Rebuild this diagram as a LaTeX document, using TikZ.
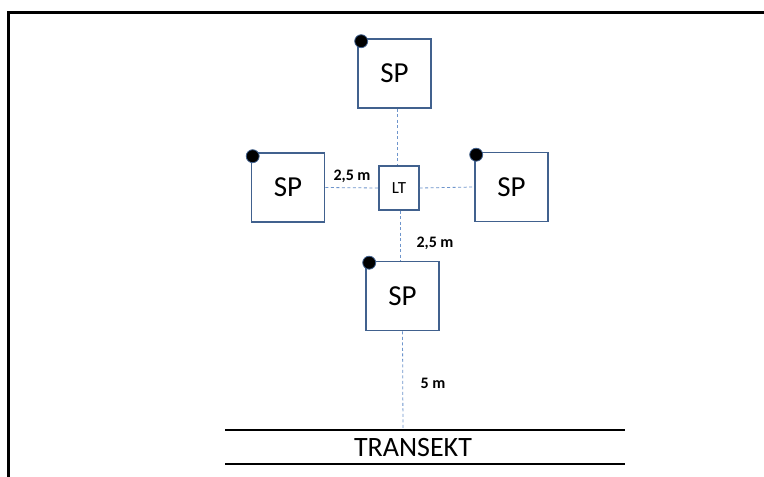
\documentclass[tikz,border=0pt]{standalone}
\usepackage{fontspec}
\setmainfont{Carlito}
\begin{document}
\begin{tikzpicture}[x=1pt,y=-1pt,
  plot/.style={draw=boxblue,line width=1.6pt,fill=white,minimum width=73pt,minimum height=69pt,inner sep=0pt,font=\fontsize{29}{30}\selectfont},
  tree/.style={draw=boxblue,line width=1.4pt,fill=white,minimum width=40pt,minimum height=44pt,inner sep=0pt,font=\fontsize{17}{18}\selectfont},
  corner/.style={circle,fill=black,draw=boxblue,line width=0.8pt,minimum size=13pt,inner sep=0pt},
  link/.style={draw=lineblue,line width=0.8pt,dash pattern=on 3pt off 2.5pt},
  dist/.style={font=\bfseries\fontsize{16}{17}\selectfont,inner sep=0pt},
  frame/.style={line width=3pt,black},
  rail/.style={line width=2.4pt,black}]
\definecolor{boxblue}{HTML}{41618E}
\definecolor{lineblue}{HTML}{6E95CC}
\useasboundingbox (0,0) rectangle (764,477);
\fill[white] (0,0) rectangle (764,477);
% outer frame
\coordinate (fb) at (8,477);
\coordinate (fc) at (8,12);
\coordinate (fr) at (764,12);
\draw[frame] (fb) -- (fc) -- (fr);
% transect rails
\coordinate (t1a) at (225,430);
\coordinate (t1b) at (625,430);
\coordinate (t2a) at (225,464);
\coordinate (t2b) at (625,464);
\draw[rail] (t1a) -- (t1b);
\draw[rail] (t2a) -- (t2b);
\node[font=\fontsize{28}{29}\selectfont,inner sep=0pt] (tr) at (413,448) {TRANSEKT};
\coordinate (tm) at (403,430);
% central tree and sample plots
\node[tree] (lt) at (399,188) {LT};
\node[plot] (n) at (394.5,73.5) {SP};
\node[plot] (w) at (288,187.5) {SP};
\node[plot] (e) at (511.5,187) {SP};
\node[plot] (s) at (402.5,296) {SP};
% dashed connections
\draw[link] ([xshift=2.5pt]n.south) -- ([xshift=2.5pt]n.south |- lt.north);
\draw[link] (w.east) -- (lt.west);
\draw[link] (lt.east) -- (e.west);
\draw[link] ([xshift=-2.5pt]lt.south -| s.north) -- ([xshift=-2.5pt]s.north);
\draw[link] (s.south) -- (tm);
% corner markers
\node[corner] (nc) at ([shift={(4,3)}]n.north west) {};
\node[corner] (wc) at ([shift={(2,4)}]w.north west) {};
\node[corner] (ec) at ([shift={(2,3)}]e.north west) {};
\node[corner] (sc) at ([shift={(4,2)}]s.north west) {};
% distance labels
\node[dist] (d1) at (352,176) {2,5 m};
\node[dist] (d2) at (435,243) {2,5 m};
\node[dist] (d3) at (433,383) {5 m};
\end{tikzpicture}
\end{document}
